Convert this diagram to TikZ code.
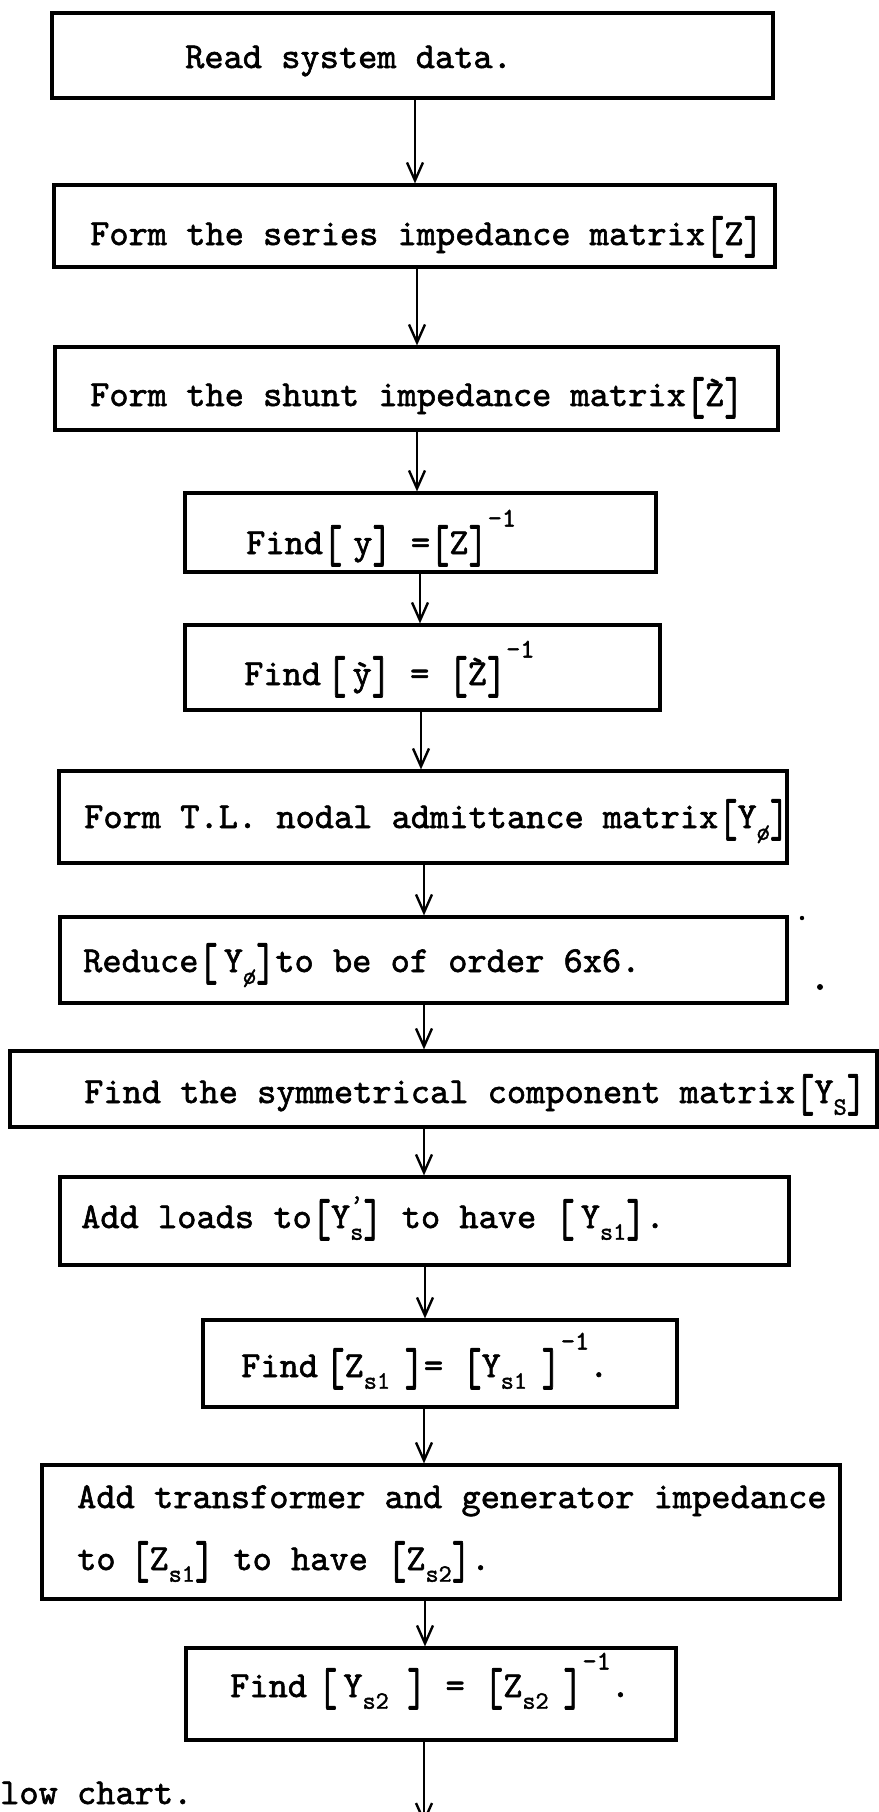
\documentclass[tikz,border=0pt]{standalone}
\usepackage{fontspec}
\setmainfont{lmmono10-regular.otf}[FakeBold=1.6]
\usetikzlibrary{arrows.meta,fit}
\newcommand{\lbrk}{\raisebox{-0.22em}{\scalebox{1}[1.45]{[}}}
\newcommand{\rbrk}{\raisebox{-0.22em}{\scalebox{1}[1.45]{]}}}
\newcommand{\sbs}[1]{\raisebox{-0.32em}{\fontsize{25}{25}\selectfont #1}}
\newcommand{\sps}[1]{\raisebox{0.75em}{\fontsize{27}{27}\selectfont #1}}
\newcommand{\prm}{\rlap{\raisebox{0.45em}{\fontsize{25}{25}\selectfont '}}}
\newcommand{\grvZ}{\ooalign{Z\cr\hidewidth\raisebox{0.12em}{\textasciigrave}\hidewidth\cr}}
\tikzset{
  box/.style={draw, line width=3.2pt, inner sep=0pt},
  txt/.style={anchor=base west, inner sep=0pt, font=\fontsize{36.6}{44}\selectfont},
  arr/.style={line width=2.4pt, -{Straight Barb[length=18pt,width=16pt,line width=2.4pt]}}
}
\begin{document}
\begin{tikzpicture}[x=1pt,y=-1pt]
\fill[white] (0,0) rectangle (878,1812);
\useasboundingbox (0,0) rectangle (878,1812);

\node[box, fit={(52,13) (773,98)}] (b1) {};
\node[box, fit={(54,185) (775,267)}] (b2) {};
\node[box, fit={(55,347) (778,430)}] (b3) {};
\node[box, fit={(185,493) (656,572)}] (b4) {};
\node[box, fit={(185,625) (660,710)}] (b5) {};
\node[box, fit={(59,771) (787,863)}] (b6) {};
\node[box, fit={(60,917) (787,1003)}] (b7) {};
\node[box, fit={(10,1051) (877,1127)}] (b8) {};
\node[box, fit={(60,1177) (789,1265)}] (b9) {};
\node[box, fit={(203,1320) (677,1407)}] (b10) {};
\node[box, fit={(42,1465) (840,1599)}] (b11) {};
\node[box, fit={(186,1648) (676,1740)}] (b12) {};

\node[txt] (t1) at (185,68) {Read system data.};
\node[txt] (t2) at (90,245) {Form the series impedance matrix\lbrk Z\rbrk};
\node[txt] (t3) at (90,406) {Form the shunt impedance matrix\lbrk\grvZ\rbrk};
\node[txt] (t4) at (246,554) {Find\lbrk\hspace{0.3em}y\rbrk\ =\lbrk Z\rbrk\sps{-1}};
\node[txt] (t5) at (244,685) {Find\,\lbrk\,\`y\rbrk\ =\ \lbrk\grvZ\rbrk\sps{-1}};
\node[txt] (t6) at (84,828) {Form T.L. nodal admittance matrix\lbrk Y\sbs{ø}\rbrk};
\node[txt] (t7) at (83,972) {Reduce\lbrk\,Y\sbs{ø}\rbrk to be of order 6x6.};
\node[txt] (t8) at (84,1103) {Find the symmetrical component matrix\lbrk Y\sbs{S}\rbrk};
\node[txt] (t9) at (81,1228) {Add loads to\lbrk Y\prm\sbs{s}\rbrk\ to have\ \lbrk\,Y\sbs{s1}\rbrk.};
\node[txt] (t10) at (241,1377) {Find\hspace{0.2em}\lbrk Z\sbs{s1}\hspace{0.4em}\rbrk=\ \lbrk Y\sbs{s1}\hspace{0.4em}\rbrk\sps{-1}.};
\node[txt] (t11) at (77,1508) {Add transformer and generator impedance};
\node[txt] (t11b) at (77,1570) {to\hspace{0.4em}\lbrk Z\sbs{s1}\rbrk\ to have\ \lbrk Z\sbs{s2}\rbrk.};
\node[txt] (t12) at (230,1697) {Find\hspace{0.3em}\lbrk\,Y\sbs{s2}\hspace{0.5em}\rbrk\ =\ \lbrk Z\sbs{s2}\hspace{0.4em}\rbrk\sps{-1}.};
\node[txt] (cap) at (0,1804) {low chart.};

\foreach \a/\b/\x in {b1/b2/415, b2/b3/417, b3/b4/417, b4/b5/420, b5/b6/421, b6/b7/424, b7/b8/424, b8/b9/424, b9/b10/425, b10/b11/424, b11/b12/425} {
  \coordinate (cx) at (\x,0);
  \draw[arr] (\a.south -| cx) -- (\b.north -| cx);
}
\coordinate (endpt) at (424,1824);
\coordinate (cx12) at (424,0);
\draw[arr] (b12.south -| cx12) -- (endpt);

\fill (802,918) circle (2.2);
\fill (820,987) circle (3);
\end{tikzpicture}
\end{document}
